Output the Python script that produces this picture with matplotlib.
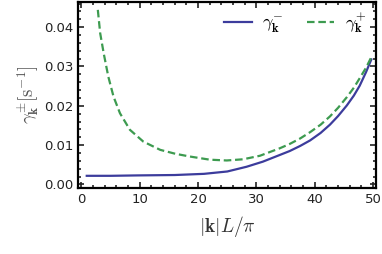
import matplotlib
matplotlib.use("Agg")
import matplotlib.pyplot as plt
from matplotlib.ticker import MultipleLocator, AutoMinorLocator, FormatStrFormatter

plt.rcParams["mathtext.fontset"] = "cm"

# values
k_minus = [0.9, 5, 9.5, 16, 21, 25, 28.3, 31.1, 34, 35.7, 37.5, 39.2, 41, 42.6, 44, 45.5, 46.7, 47.7, 48.8, 49.7]
gamma_minus = [0.0022, 0.0022, 0.0023, 0.0024, 0.0027, 0.0033, 0.0045, 0.0058, 0.0075, 0.0085,
               0.0098, 0.0112, 0.0131, 0.0152, 0.0174, 0.0201, 0.0226, 0.0251, 0.0286, 0.0318]

k_plus = [2.8, 3.2, 3.8, 4.6, 5.5, 6.6, 8.3, 10.6, 13.5, 16.1, 18.6, 22.0, 24.9, 27.7, 30.6,
          34.0, 35.7, 37.5, 39.2, 41, 42.6, 44, 45.5, 46.7, 47.7, 48.8, 49.6]
gamma_plus = [0.0444, 0.0385, 0.0334, 0.0274, 0.0223, 0.0181, 0.0139, 0.0109, 0.0088, 0.0078,
              0.0071, 0.0063, 0.0061, 0.0064, 0.0073, 0.0092, 0.0103, 0.0117, 0.0133, 0.0152,
              0.0173, 0.0195, 0.0222, 0.0246, 0.0270, 0.0297, 0.0321]

fig = plt.figure(figsize=(3.82, 2.54), dpi=100)
ax = fig.add_axes([78 / 382, 1 - 188 / 254, (376 - 78) / 382, (188 - 2) / 254])

ax.plot(k_minus, gamma_minus, color="#3c3c9c", lw=1.6, label=r"$\gamma_{\mathbf{k}}^{-}$")
ax.plot(k_plus, gamma_plus, color="#3d9b50", lw=1.6, ls=(0, (3.4, 1.7)), label=r"$\gamma_{\mathbf{k}}^{+}$")

ax.set_xlim(-0.6, 50.5)
ax.set_ylim(-0.0009, 0.0464)
ax.xaxis.set_major_locator(MultipleLocator(10))
ax.xaxis.set_minor_locator(AutoMinorLocator(5))
ax.yaxis.set_major_locator(MultipleLocator(0.01))
ax.yaxis.set_minor_locator(AutoMinorLocator(5))
ax.yaxis.set_major_formatter(FormatStrFormatter("%.2f"))
ax.tick_params(which="both", direction="in", top=True, right=True, colors="#222222",
               labelsize=9.5, width=1.2)
ax.tick_params(which="major", length=4)
ax.tick_params(which="minor", length=2.5)
for s in ax.spines.values():
    s.set_linewidth(1.6)

ax.set_xlabel(r"$|\mathbf{k}|L/\pi$", fontsize=14, color="#333333", labelpad=6)
ax.set_ylabel(r"$\gamma^{\pm}_{\mathbf{k}}[\mathrm{s}^{-1}]$", fontsize=13.5, color="#555555", labelpad=2)

ax.legend(loc="upper right", ncol=2, frameon=False, fontsize=13, handlelength=1.5,
          columnspacing=1.3, handletextpad=0.6, borderaxespad=0.1)

fig.savefig("out.png", dpi=100)
